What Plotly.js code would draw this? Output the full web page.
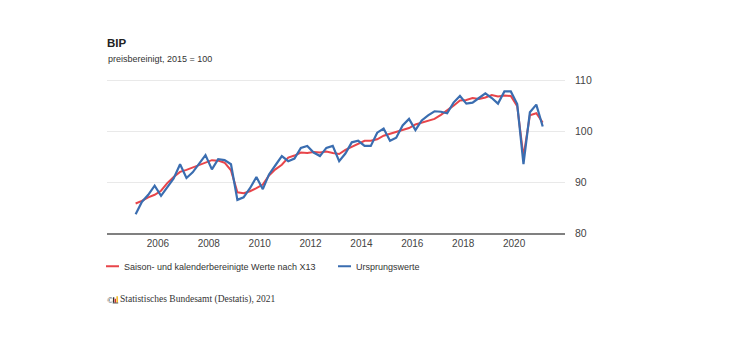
<!DOCTYPE html>
<html>
<head>
<meta charset="utf-8">
<script src="https://cdn.plot.ly/plotly-3.0.1.min.js"></script>
<style>
html,body{margin:0;padding:0;background:#fff;}
#chart{width:740px;height:353px;}
</style>
</head>
<body>
<div id="chart"></div>
<script>
// Quarterly periods 2005 Q1 – 2021 Q1
const quarters = [
 "2005-Q1","2005-Q2","2005-Q3","2005-Q4",
 "2006-Q1","2006-Q2","2006-Q3","2006-Q4",
 "2007-Q1","2007-Q2","2007-Q3","2007-Q4",
 "2008-Q1","2008-Q2","2008-Q3","2008-Q4",
 "2009-Q1","2009-Q2","2009-Q3","2009-Q4",
 "2010-Q1","2010-Q2","2010-Q3","2010-Q4",
 "2011-Q1","2011-Q2","2011-Q3","2011-Q4",
 "2012-Q1","2012-Q2","2012-Q3","2012-Q4",
 "2013-Q1","2013-Q2","2013-Q3","2013-Q4",
 "2014-Q1","2014-Q2","2014-Q3","2014-Q4",
 "2015-Q1","2015-Q2","2015-Q3","2015-Q4",
 "2016-Q1","2016-Q2","2016-Q3","2016-Q4",
 "2017-Q1","2017-Q2","2017-Q3","2017-Q4",
 "2018-Q1","2018-Q2","2018-Q3","2018-Q4",
 "2019-Q1","2019-Q2","2019-Q3","2019-Q4",
 "2020-Q1","2020-Q2","2020-Q3","2020-Q4",
 "2021-Q1"
];

// Saison- und kalenderbereinigte Werte nach X13 (red)
const saisonbereinigt = [
 85.8, 86.3, 87.0, 87.5,
 88.3, 89.8, 91.0, 92.0,
 92.4, 92.9, 93.4, 93.9,
 94.3, 94.2, 93.8, 92.3,
 88.0, 87.8, 88.2, 88.8,
 89.5, 91.3, 92.5, 93.4,
 94.8, 95.2, 95.8, 95.7,
 95.9, 95.8, 96.0, 95.7,
 95.5, 96.3, 96.9, 97.5,
 98.1, 98.1, 98.4, 99.1,
 99.5, 99.9, 100.2, 100.6,
 101.3, 101.7, 102.0, 102.4,
 103.2, 104.0, 105.0, 106.0,
 106.1, 106.5, 106.3, 106.6,
 107.1, 106.8, 107.0, 106.9,
 104.9, 95.0, 103.1, 103.5,
 101.7
];

// Ursprungswerte (blue)
const ursprungswerte = [
 83.7, 86.1, 87.5, 89.3,
 87.3, 89.1, 90.7, 93.5,
 90.8, 91.9, 93.7, 95.3,
 92.5, 94.5, 94.3, 93.5,
 86.5, 87.0, 88.8, 91.0,
 88.6, 91.5, 93.3, 95.1,
 94.1, 94.6, 96.7, 97.1,
 95.8, 95.1, 96.7, 97.1,
 94.1, 95.6, 97.8, 98.1,
 97.1, 97.1, 99.7, 100.5,
 98.1, 98.7, 101.1, 102.4,
 100.2, 102.1, 103.1, 103.9,
 103.8, 103.5, 105.6, 106.9,
 105.4, 105.6, 106.5, 107.4,
 106.5, 105.4, 107.8, 107.8,
 105.3, 93.5, 103.7, 105.2,
 100.9
];

const seriesNames = ["Saison- und kalenderbereinigte Werte nach X13", "Ursprungswerte"];
const yTicks = [80, 90, 100, 110];
const xTickYears = ["2006","2008","2010","2012","2014","2016","2018","2020"];

// place each quarter at the middle of the quarter on a date axis
const midMonth = {Q1: "02-15", Q2: "05-15", Q3: "08-15", Q4: "11-15"};
const dates = quarters.map(q => { const [y, qq] = q.split("-"); return y + "-" + midMonth[qq]; });

const FONT = "Liberation Sans, Arial, Helvetica, sans-serif";
const SERIF = "Liberation Serif, Times New Roman, serif";

const traces = [
  {x: dates, y: saisonbereinigt, name: seriesNames[0], type: "scatter", mode: "lines",
   line: {color: "#e8454a", width: 2}, legend: "legend"},
  {x: dates, y: ursprungswerte, name: seriesNames[1], type: "scatter", mode: "lines",
   line: {color: "#3a6db0", width: 2.2}, legend: "legend2"}
];

const PW = 458, PH = 162.5, PB = 232.5, PL = 107;
const py = yPix => -(yPix - PB) / PH;   // pixel row -> paper y below plot
const px = xPix => (xPix - PL) / PW;    // pixel column -> paper x

const legendStyle = {
  orientation: "h", xanchor: "left", y: -0.115, yanchor: "top",
  font: {family: FONT, size: 9, color: "#333"},
  itemwidth: 30, bgcolor: "rgba(0,0,0,0)"
};

const layout = {
  width: 740, height: 353,
  paper_bgcolor: "#ffffff", plot_bgcolor: "#ffffff",
  margin: {l: 107, r: 175, t: 70, b: 120, pad: 0},
  font: {family: FONT, size: 10, color: "#444"},
  title: {text: "<b>BIP</b>", font: {family: FONT, size: 11.5, color: "#222"},
          x: 107/740, xanchor: "left", xref: "container", y: 1 - 43/353, yanchor: "middle", yref: "container"},
  xaxis: {
    type: "date",
    range: ["2004-01-01", "2022-01-01"],
    tickvals: xTickYears.map(y => y + "-01-01"),
    ticktext: xTickYears,
    showgrid: false, zeroline: false,
    showline: true, linecolor: "#808080", linewidth: 1.5,
    ticks: "", tickfont: {family: FONT, size: 10, color: "#444"},
    fixedrange: true
  },
  yaxis: {
    side: "right",
    range: [80, 112],
    tickvals: yTicks,
    showgrid: true, gridcolor: "#e9e9e9", gridwidth: 1,
    zeroline: false, showline: false, ticks: "",
    tickfont: {family: FONT, size: 10.5, color: "#444"},
    ticklabelstandoff: 9,
    fixedrange: true
  },
  showlegend: true,
  legend: Object.assign({}, legendStyle, {x: px(84)}),
  legend2: Object.assign({}, legendStyle, {x: px(316)}),
  annotations: [
    {text: "preisbereinigt, 2015 = 100", xref: "paper", yref: "paper",
     x: px(106), xanchor: "left", y: 1 + (70 - 59)/PH, yanchor: "middle", showarrow: false,
     font: {family: FONT, size: 9, color: "#333"}},
    {text: "©", xref: "paper", yref: "paper", x: px(104.5), xanchor: "left",
     y: py(299), yanchor: "middle", showarrow: false,
     font: {family: SERIF, size: 9, color: "#333"}},
    {text: "Statistisches Bundesamt (Destatis), 2021", xref: "paper", yref: "paper",
     x: px(118), xanchor: "left", y: py(299), yanchor: "middle", showarrow: false,
     font: {family: SERIF, size: 9.5, color: "#333"}}
  ],
  shapes: [
    // small Destatis logo next to the copyright sign
    {type: "rect", xref: "paper", yref: "paper", x0: px(113), x1: px(114.3),
     y0: py(302), y1: py(296.5), fillcolor: "#333", line: {width: 0}},
    {type: "rect", xref: "paper", yref: "paper", x0: px(114.7), x1: px(116),
     y0: py(302), y1: py(298), fillcolor: "#d9302c", line: {width: 0}},
    {type: "rect", xref: "paper", yref: "paper", x0: px(116.4), x1: px(117.9),
     y0: py(302), y1: py(295.5), fillcolor: "#f2b61c", line: {width: 0}},
    {type: "line", xref: "paper", yref: "paper", x0: px(112.7), x1: px(118.2),
     y0: py(302.3), y1: py(302.3), line: {color: "#333", width: 0.8}}
  ]
};

Plotly.newPlot("chart", traces, layout, {displayModeBar: false, staticPlot: true}).then(gd => {
  // shorten the legend line samples to match the short dashes of the original
  gd.querySelectorAll(".legendlines path").forEach(p => p.setAttribute("d", "M22,0h13"));
});
</script>
</body>
</html>
